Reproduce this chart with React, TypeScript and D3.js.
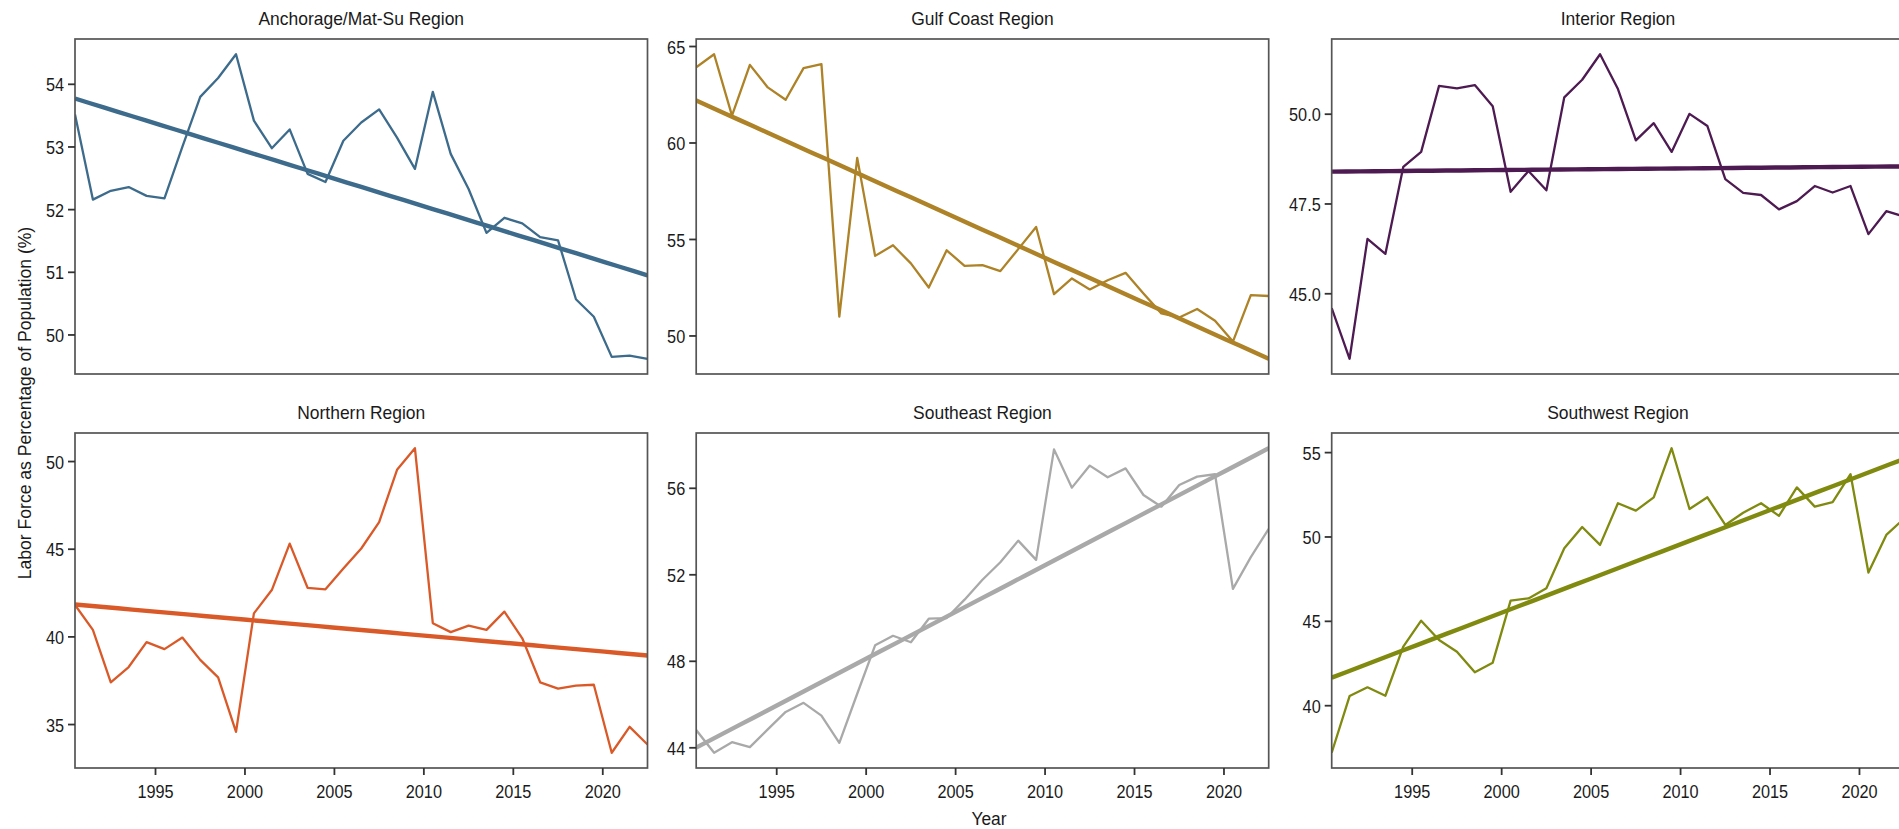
import React from 'react';
import * as d3 from 'd3';

const years = [1990, 1991, 1992, 1993, 1994, 1995, 1996, 1997, 1998, 1999, 2000, 2001, 2002, 2003, 2004, 2005, 2006, 2007, 2008, 2009, 2010, 2011, 2012, 2013, 2014, 2015, 2016, 2017, 2018, 2019, 2020, 2021, 2022];

const anchorage = [53.52, 52.16, 52.30, 52.36, 52.22, 52.18, 53.0, 53.80, 54.10, 54.48, 53.42, 52.98, 53.28, 52.57, 52.44, 53.10, 53.39, 53.60, 53.15, 52.65, 53.88, 52.89, 52.33, 51.63, 51.87, 51.78, 51.56, 51.51, 50.57, 50.29, 49.65, 49.67, 49.62];
const gulfCoast = [63.92, 64.60, 61.42, 64.05, 62.88, 62.24, 63.88, 64.09, 51.0, 59.23, 54.15, 54.70, 53.76, 52.51, 54.44, 53.63, 53.67, 53.36, 54.5, 55.65, 52.17, 52.98, 52.41, 52.89, 53.27, 52.2, 51.17, 50.96, 51.40, 50.79, 49.71, 52.12, 52.07];
const interior = [44.60, 43.19, 46.53, 46.11, 48.53, 48.95, 50.79, 50.72, 50.81, 50.22, 47.84, 48.42, 47.88, 50.47, 50.96, 51.67, 50.70, 49.27, 49.75, 48.95, 50.01, 49.67, 48.19, 47.81, 47.75, 47.35, 47.58, 48.00, 47.82, 48.00, 46.66, 47.30, 47.15];
const northern = [41.82, 40.40, 37.41, 38.28, 39.70, 39.30, 39.96, 38.69, 37.69, 34.58, 41.34, 42.67, 45.32, 42.80, 42.71, 43.90, 45.04, 46.55, 49.53, 50.76, 40.78, 40.27, 40.64, 40.40, 41.44, 39.92, 37.41, 37.05, 37.22, 37.27, 33.39, 34.87, 33.86];
const southeast = [44.82, 43.77, 44.26, 44.03, 44.85, 45.66, 46.08, 45.49, 44.23, 46.5, 48.74, 49.18, 48.88, 49.97, 50.0, 50.85, 51.77, 52.58, 53.58, 52.69, 57.80, 56.03, 57.05, 56.51, 56.92, 55.69, 55.15, 56.15, 56.54, 56.65, 51.35, 52.82, 54.12];
const southwest = [37.21, 40.57, 41.09, 40.59, 43.50, 45.04, 43.89, 43.20, 41.98, 42.55, 46.23, 46.36, 46.96, 49.33, 50.59, 49.53, 52.00, 51.56, 52.35, 55.26, 51.66, 52.35, 50.71, 51.44, 52.00, 51.25, 52.94, 51.80, 52.06, 53.72, 47.89, 50.12, 51.1];

const regionNames = ['Anchorage/Mat-Su Region', 'Gulf Coast Region', 'Interior Region', 'Northern Region', 'Southeast Region', 'Southwest Region'];
const regionSeries = [anchorage, gulfCoast, interior, northern, southeast, southwest];
const regionColors = ['#3D6B8C', '#AE8226', '#4E1A52', '#D95A28', '#A9A9A9', '#7F8A0E'];

const yTickValues = [
  [50, 51, 52, 53, 54],
  [50, 55, 60, 65],
  [45.0, 47.5, 50.0],
  [35, 40, 45, 50],
  [44, 48, 52, 56],
  [40, 45, 50, 55],
];
const yTickFormats = ['d', 'd', '.1f', 'd', 'd', 'd'];
const xTickValues = [1995, 2000, 2005, 2010, 2015, 2020];

const xAxisTitle = 'Year';
const yAxisTitle = 'Labor Force as Percentage of Population (%)';

const W = 1899;
const H = 829;
const colLefts = [75, 696.2, 1331.7];
const panelW = 572.5;
const rowTops = [39, 433];
const panelH = 335;
const FONT = "'Liberation Sans', Arial, Helvetica, sans-serif";

function fit(xs: number[], ys: number[]) {
  const mx = d3.mean(xs) as number;
  const my = d3.mean(ys) as number;
  let sxy = 0, sxx = 0;
  for (let i = 0; i < xs.length; i++) {
    sxy += (xs[i] - mx) * (ys[i] - my);
    sxx += (xs[i] - mx) * (xs[i] - mx);
  }
  const b = sxy / sxx;
  const a = my - b * mx;
  return (x: number) => a + b * x;
}

function Panel({ idx }: { idx: number }) {
  const col = idx % 3;
  const row = Math.floor(idx / 3);
  const left = colLefts[col];
  const top = rowTops[row];
  const values = regionSeries[idx];
  const xs = years.map((y) => y + 0.5);
  const f = fit(xs, values);
  const x0 = xs[0];
  const x1 = xs[xs.length - 1];
  const trendEnds = [f(x0), f(x1)];
  const allY = values.concat(trendEnds);
  const ymin = d3.min(allY) as number;
  const ymax = d3.max(allY) as number;
  const pad = (ymax - ymin) * 0.05;

  const x = d3.scaleLinear().domain([x0, x1]).range([left, left + panelW]);
  const y = d3.scaleLinear().domain([ymin - pad, ymax + pad]).range([top + panelH, top]);

  const line = d3.line<[number, number]>().x((d) => x(d[0])).y((d) => y(d[1]));
  const dataPts: [number, number][] = xs.map((xv, i) => [xv, values[i]]);
  const trendN = 40;
  const trendLine: [number, number][] = d3.range(trendN + 1).map((k) => {
    const xv = x0 + ((x1 - x0) * k) / trendN;
    return [xv, f(xv)];
  });
  const fmt = d3.format(yTickFormats[idx]);
  const clipId = `clip-${idx}`;
  const color = regionColors[idx];

  return (
    <g>
      <clipPath id={clipId}>
        <rect x={left} y={top} width={panelW} height={panelH} />
      </clipPath>
      <rect x={left} y={top} width={panelW} height={panelH} fill="white" />
      <g clipPath={`url(#${clipId})`}>
        <path d={line(dataPts) || ''} fill="none" stroke={color} strokeWidth={2.3} strokeLinejoin="round" />
        <path d={line(trendLine) || ''} fill="none" stroke={color} strokeWidth={4.4} />
      </g>
      <rect x={left} y={top} width={panelW} height={panelH} fill="none" stroke="#555555" strokeWidth={1.7} />
      {yTickValues[idx].map((t) => (
        <g key={t}>
          <line x1={left - 7} x2={left} y1={y(t)} y2={y(t)} stroke="#333333" strokeWidth={1.8} />
          <g transform={`translate(${left - 11},${y(t)}) scale(0.88,1)`}>
            <text textAnchor="end" dy="0.38em" fontSize={18.5} fontFamily={FONT} fill="#1a1a1a">{fmt(t)}</text>
          </g>
        </g>
      ))}
      {row === 1 && xTickValues.map((t) => (
        <g key={t}>
          <line x1={x(t)} x2={x(t)} y1={top + panelH} y2={top + panelH + 7} stroke="#333333" strokeWidth={1.8} />
          <g transform={`translate(${x(t)},${798}) scale(0.88,1)`}>
            <text textAnchor="middle" fontSize={18.5} fontFamily={FONT} fill="#1a1a1a">{t}</text>
          </g>
        </g>
      ))}
      <g transform={`translate(${left + panelW / 2},${top - 14}) scale(0.97,1)`}>
        <text textAnchor="middle" fontSize={18} fontFamily={FONT} fill="#1a1a1a">{regionNames[idx]}</text>
      </g>
    </g>
  );
}

export default function App() {
  return (
    <svg
      width={W}
      height={H}
      viewBox={`0 0 ${W} ${H}`}
      style={{ position: 'absolute', left: 0, top: 0, background: 'white', display: 'block' }}
    >
      <rect x={0} y={0} width={W} height={H} fill="white" />
      {regionNames.map((_, i) => (
        <Panel key={i} idx={i} />
      ))}
      <g transform={`translate(989,825) scale(0.94,1)`}>
        <text textAnchor="middle" fontSize={18.5} fontFamily={FONT} fill="#1a1a1a">{xAxisTitle}</text>
      </g>
      <g transform={`translate(31,403) rotate(-90) scale(0.95,1)`}>
        <text textAnchor="middle" fontSize={18.5} fontFamily={FONT} fill="#1a1a1a">{yAxisTitle}</text>
      </g>
    </svg>
  );
}
